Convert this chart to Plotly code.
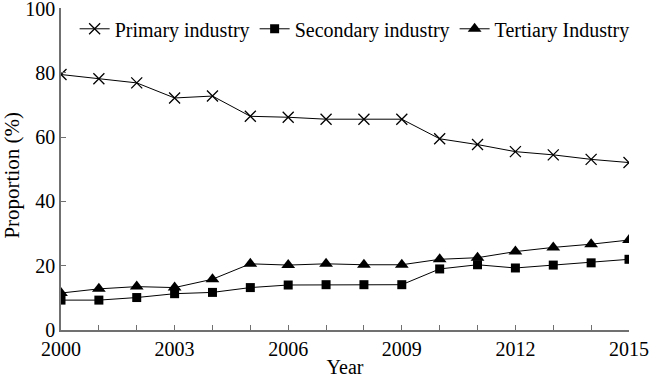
import plotly.graph_objects as go

years = list(range(2000, 2016))
primary = [79.5, 78.2, 76.9, 72.2, 72.8, 66.5, 66.2, 65.6, 65.6, 65.6, 59.5, 57.7, 55.5, 54.5, 53.1, 52.1]
secondary = [9.3, 9.3, 10.1, 11.3, 11.7, 13.2, 14.0, 14.1, 14.1, 14.1, 19.0, 20.3, 19.3, 20.2, 20.9, 22.0]
tertiary = [11.5, 12.8, 13.5, 13.2, 15.8, 20.6, 20.2, 20.6, 20.3, 20.3, 22.0, 22.5, 24.4, 25.7, 26.7, 28.0]
series_names = ["Primary industry", "Secondary industry", "Tertiary Industry"]
tick_years = years
tick_labels = [str(y) if (y - 2000) % 3 == 0 else "" for y in years]
y_ticks = [0, 20, 40, 60, 80, 100]

fig = go.Figure()
styles = [
    dict(symbol="x-thin-open", size=11, line=dict(width=1.3, color="black")),
    dict(symbol="square", size=9, color="black"),
    dict(symbol="triangle-up", size=12, color="black"),
]
for name, vals, mk in zip(series_names, [primary, secondary, tertiary], styles):
    fig.add_trace(go.Scatter(
        x=years, y=vals, name=name, mode="lines+markers",
        line=dict(color="black", width=1), marker=mk,
    ))

font_family = "Liberation Serif, Times New Roman, serif"
fig.update_layout(
    width=650, height=378,
    margin=dict(l=61, r=21, t=8, b=48, autoexpand=False),
    plot_bgcolor="white", paper_bgcolor="white",
    font=dict(family=font_family, size=20, color="black"),
    showlegend=True,
    legend=dict(orientation="h", x=0.024, y=0.996, xanchor="left", yanchor="top",
                bgcolor="rgba(0,0,0,0)", font=dict(size=20)),
)
fig.add_annotation(
    text="Proportion (%)", textangle=-90, xref="paper", yref="paper",
    x=-0.086, y=0.48, xanchor="center", yanchor="middle", showarrow=False,
    font=dict(size=21),
)
fig.update_xaxes(
    range=[2000, 2015], tickmode="array", tickvals=tick_years, ticktext=tick_labels,
    ticks="inside", ticklen=5, tickcolor="#707070", showline=True, linecolor="#707070",
    linewidth=1.5, showgrid=False, zeroline=False, tickfont=dict(size=20),
    title=dict(text="Year", font=dict(size=20), standoff=5),
)
fig.update_yaxes(
    range=[0, 100.2], tickmode="array", tickvals=y_ticks,
    ticks="inside", ticklen=5, tickcolor="#707070", showline=True, linecolor="#707070",
    linewidth=1.5, showgrid=False, zeroline=False, tickfont=dict(size=20),
    ticklabeloverflow="allow",
)
fig.write_html("out.html", config={"displayModeBar": False},
               post_script="document.body.style.margin='0';")
